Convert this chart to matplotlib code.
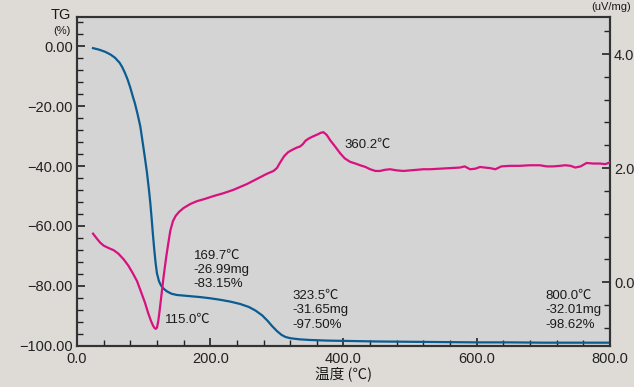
import matplotlib
matplotlib.use('Agg')
import matplotlib.pyplot as plt
from matplotlib.ticker import MultipleLocator, FuncFormatter

plt.rcParams['font.family'] = ['Liberation Sans', 'Noto Sans CJK JP', 'DejaVu Sans']

# TG curve (%)
tg_temp = [24, 33, 42, 50, 57, 64, 68, 72, 76, 80, 84, 87, 91, 95, 99, 102,
           105, 108, 110, 112, 114, 116, 118, 120, 123, 126, 130, 135, 142,
           150, 160, 170, 185, 200, 215, 230, 245, 258, 268, 278, 286, 293,
           300, 307, 313, 320, 327, 335, 350, 375, 400, 450, 500, 550, 600,
           650, 700, 750, 800]
tg_val = [-0.7, -1.2, -1.9, -2.8, -3.9, -5.6, -7.1, -9.0, -11.2, -13.9, -17.0,
          -19.2, -22.8, -26.8, -32.8, -37.4, -42.2, -48.0, -52.3, -57.5, -63.0,
          -68.0, -72.4, -75.8, -78.4, -79.8, -80.9, -81.8, -82.6, -83.0,
          -83.2, -83.4, -83.7, -84.1, -84.6, -85.2, -86.0, -87.0, -88.2,
          -89.8, -91.6, -93.4, -95.0, -96.3, -97.0, -97.4, -97.6, -97.8,
          -98.0, -98.2, -98.3, -98.5, -98.6, -98.7, -98.8, -98.8, -98.9,
          -98.9, -98.9]

# DTA curve (uV/mg)
dta_temp = [24, 30, 35, 40, 47, 55, 62, 70, 77, 84, 90, 97, 102, 107, 111,
            114, 116, 118, 120, 122, 124, 127, 130, 134, 137, 140, 144, 148,
            153, 160, 170, 180, 192, 205, 220, 235, 245, 255, 265, 275, 285,
            295, 300, 305, 311, 317, 323, 330, 335, 339, 343, 348, 355, 361,
            366, 370, 375, 380, 388, 395, 402, 410, 418, 425, 433, 440, 448,
            455, 462, 470, 480, 490, 500, 510, 520, 530, 545, 560, 575, 582,
            590, 598, 605, 612, 620, 628, 637, 650, 665, 680, 695, 705, 715,
            725, 733, 741, 748, 756, 765, 775, 785, 793, 800]
dta_val = [0.85, 0.76, 0.69, 0.64, 0.60, 0.56, 0.50, 0.40, 0.29, 0.15, 0.02,
           -0.20, -0.36, -0.55, -0.68, -0.76, -0.80, -0.82, -0.80, -0.68,
           -0.50, -0.20, 0.10, 0.45, 0.68, 0.90, 1.07, 1.16, 1.23, 1.30, 1.37,
           1.42, 1.46, 1.51, 1.56, 1.62, 1.67, 1.72, 1.78, 1.84, 1.90, 1.95,
           2.00, 2.10, 2.21, 2.28, 2.32, 2.36, 2.38, 2.42, 2.48, 2.52, 2.56,
           2.59, 2.62, 2.63, 2.58, 2.49, 2.37, 2.26, 2.17, 2.11, 2.08, 2.05,
           2.02, 1.98, 1.95, 1.95, 1.97, 1.98, 1.96, 1.95, 1.96, 1.97, 1.98,
           1.98, 1.99, 2.00, 2.01, 2.03, 1.98, 1.99, 2.02, 2.01, 2.00, 1.98,
           2.03, 2.04, 2.04, 2.05, 2.05, 2.03, 2.03, 2.04, 2.05, 2.04, 2.01,
           2.03, 2.09, 2.08, 2.08, 2.07, 2.10]

# annotations: (x, y in TG units, text)
notes = [
    (175, -67.8, '169.7\u2103\n-26.99mg\n-83.15%'),
    (132, -89.4, '115.0\u2103'),
    (324, -81.3, '323.5\u2103\n-31.65mg\n-97.50%'),
    (703, -81.3, '800.0\u2103\n-32.01mg\n-98.62%'),
    (402, -31.0, '360.2\u2103'),
]

fig = plt.figure(figsize=(6.34, 3.87), dpi=100)
fig.patch.set_facecolor('#dedbd6')
ax = fig.add_axes([0.1215, 0.106, 0.8405, 0.850])
ax.set_facecolor('#d4d4d4')
ax2 = ax.twinx()

ax.plot(tg_temp, tg_val, color='#0a5c92', lw=1.6, zorder=3)
ax2.plot(dta_temp, dta_val, color='#d8117f', lw=1.6, zorder=3)

ax.set_xlim(0, 800)
ax.set_ylim(-100, 9.67)
ax2.set_ylim(-1.12, 4.65)

ax.xaxis.set_major_locator(MultipleLocator(200))
ax.xaxis.set_minor_locator(MultipleLocator(40))
ax.yaxis.set_major_locator(MultipleLocator(20))
ax.yaxis.set_minor_locator(MultipleLocator(4))
ax2.yaxis.set_major_locator(MultipleLocator(2))
ax2.yaxis.set_minor_locator(MultipleLocator(0.4))

ax.xaxis.set_major_formatter(FuncFormatter(lambda v, p: '%.1f' % v))
ax.yaxis.set_major_formatter(FuncFormatter(lambda v, p: ('%.2f' % v).replace('-', '\u2212')))
ax2.yaxis.set_major_formatter(FuncFormatter(lambda v, p: '%.1f' % v))

for a in (ax, ax2):
    a.tick_params(which='major', direction='in', length=6, width=1.2,
                  colors='#222222', labelsize=10.5, pad=3)
    a.tick_params(which='minor', direction='in', length=4, width=1.0,
                  colors='#222222')
    for s in a.spines.values():
        s.set_color('#333333')
        s.set_linewidth(1.5)
ax.tick_params(axis='x', pad=4)
ax2.tick_params(axis='y', pad=3)

for x, y, t in notes:
    ax.text(x, y, t, fontsize=9.5, color='#1a1a1a', va='top', ha='left',
            linespacing=1.28, zorder=4)

fig.text(0.112, 0.962, 'TG', fontsize=10.5, ha='right', va='center', color='#1a1a1a')
fig.text(0.111, 0.921, '(%)', fontsize=8, ha='right', va='center', color='#1a1a1a')
fig.text(0.995, 0.982, '(uV/mg)', fontsize=8, ha='right', va='center', color='#1a1a1a')
ax.set_xlabel('温度 (℃)', fontsize=10.5, labelpad=1, color='#1a1a1a',
              family=['Noto Sans CJK JP', 'DejaVu Sans'])

fig.savefig('out.png', dpi=100, facecolor=fig.get_facecolor())
